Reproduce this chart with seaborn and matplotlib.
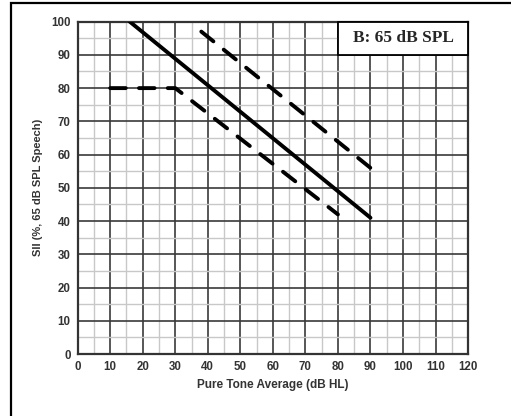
import matplotlib
matplotlib.use("Agg")
import matplotlib.pyplot as plt
import seaborn as sns
import pandas as pd
from matplotlib.patches import Rectangle

# Data
solid_x = [16, 90]
solid_y = [100, 41]
upper_x = [38, 90]
upper_y = [97, 56]
lower_x = [10, 30, 80]
lower_y = [80, 80, 42]
x_ticks = [0, 10, 20, 30, 40, 50, 60, 70, 80, 90, 100, 110, 120]
y_ticks = [0, 10, 20, 30, 40, 50, 60, 70, 80, 90, 100]
box_text = "B: 65 dB SPL"
x_label = "Pure Tone Average (dB HL)"
y_label = "SII (%, 65 dB SPL Speech)"

df = pd.concat([
    pd.DataFrame({"x": solid_x, "y": solid_y, "series": "solid"}),
    pd.DataFrame({"x": upper_x, "y": upper_y, "series": "upper"}),
    pd.DataFrame({"x": lower_x, "y": lower_y, "series": "lower"}),
], ignore_index=True)

sns.set_style("white")
plt.rcParams["font.family"] = ["Liberation Sans", "DejaVu Sans"]

fig = plt.figure(figsize=(5.11, 4.16), dpi=100)
ax = fig.add_axes([0.152, 0.149, 0.764, 0.799])

# outer frame (left & top visible)
fig.patches.append(Rectangle((11 / 511, -0.1), 1.2, 1 - 3 / 416 + 0.1,
                             transform=fig.transFigure, fill=False,
                             edgecolor="black", linewidth=1.6))

# grid
for v in range(0, 121, 5):
    major = v % 10 == 0
    ax.axvline(v, color="#3a3a3a" if major else "#c8c8c8",
               linewidth=1.2 if major else 1.0, zorder=0)
for v in range(0, 101, 5):
    major = v % 10 == 0
    ax.axhline(v, color="#3a3a3a" if major else "#c8c8c8",
               linewidth=1.2 if major else 1.0, zorder=0)

sns.lineplot(data=df, x="x", y="y", style="series", units="series",
             estimator=None, sort=False, color="black", linewidth=2.8,
             dashes={"solid": "", "upper": (4.0, 3.4), "lower": (4.0, 3.4)},
             legend=False, ax=ax, zorder=3)
for ln in ax.get_lines():
    ln.set_dash_capstyle("round")
    ln.set_solid_capstyle("round")

ax.set_xlim(0, 120)
ax.set_ylim(0, 100)
ax.set_xticks(x_ticks)
ax.set_yticks(y_ticks)
ax.tick_params(axis="both", labelsize=8.3, length=3, width=1, direction="out",
               pad=2, colors="black")
for lbl in ax.get_xticklabels() + ax.get_yticklabels():
    lbl.set_fontweight("bold")
    lbl.set_color("#333333")
ax.set_xlabel(x_label, fontsize=8.5, fontweight="bold", color="#333333", labelpad=4)
ax.set_ylabel(y_label, fontsize=8.0, fontweight="bold", color="#333333", labelpad=6)

for s in ax.spines.values():
    s.set_color("#333333")
    s.set_linewidth(1.6)

# label box
ax.add_patch(Rectangle((80, 90), 40, 10, facecolor="white", edgecolor="black",
                       linewidth=1.3, zorder=4, clip_on=False))
ax.text(100, 95, box_text, ha="center", va="center", fontsize=12.5,
        fontweight="bold", family=["Liberation Serif", "DejaVu Serif"], zorder=5)

fig.savefig("out.png", dpi=100)
